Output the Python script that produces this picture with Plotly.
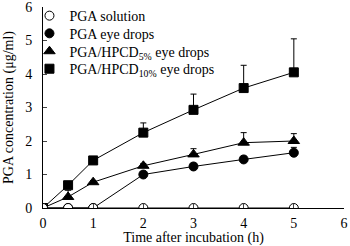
import plotly.graph_objects as go

time = [0, 0.5, 1, 2, 3, 4, 5]
sol = [0, 0, 0, 0, 0, 0, 0]
drops = [0, 0, 0, 1.0, 1.24, 1.45, 1.65]
drops_err = [0, 0, 0, 0.07, 0.1, 0.1, 0.16]
hp5 = [0, 0.33, 0.77, 1.26, 1.6, 1.95, 2.0]
hp5_err = [0, 0.2, 0.05, 0.07, 0.17, 0.3, 0.22]
hp10 = [0, 0.68, 1.42, 2.25, 2.93, 3.58, 4.05]
hp10_err = [0, 0.05, 0.05, 0.29, 0.47, 0.68, 1.0]
xticks = [0, 1, 2, 3, 4, 5, 6]
yticks = [0, 1, 2, 3, 4, 5, 6]

names = ["PGA solution", "PGA eye drops", "PGA/HPCD<sub>5%</sub> eye drops", "PGA/HPCD<sub>10%</sub> eye drops"]
FONT = "Liberation Serif"

fig = go.Figure()
for ys in [hp10, hp5, drops, sol]:
    fig.add_trace(go.Scatter(x=time, y=ys, mode="lines", line=dict(color="black", width=1),
                             showlegend=False, hoverinfo="skip"))

series = [
    (hp10, hp10_err, "square", 9, names[3], "legend4"),
    (hp5, hp5_err, "triangle-up", 10, names[2], "legend3"),
    (drops, drops_err, "circle", 9, names[1], "legend2"),
]
for ys, err, sym, sz, nm, lg in series:
    fig.add_trace(go.Scatter(
        x=time, y=ys, mode="markers", name=nm, legend=lg,
        marker=dict(symbol=sym, size=sz, color="black", line=dict(color="black", width=1)),
        error_y=dict(type="data", array=err, arrayminus=[0] * len(err), symmetric=False,
                     color="black", thickness=1, width=3),
    ))
fig.add_trace(go.Scatter(x=time, y=sol, mode="markers", name=names[0], legend="legend",
                         marker=dict(symbol="circle", size=9, color="white",
                                     line=dict(color="black", width=1))))

def leg(y):
    return dict(x=-0.045, y=y, xanchor="left", yanchor="middle", bgcolor="rgba(0,0,0,0)",
                font=dict(family=FONT, size=14), itemwidth=30)

fig.update_layout(
    width=350, height=246,
    margin=dict(l=43, r=6, t=7, b=38, autoexpand=False),
    plot_bgcolor="white", paper_bgcolor="white",
    font=dict(family=FONT, size=14, color="black"),
    legend=leg(0.955), legend2=leg(0.867), legend3=leg(0.778), legend4=leg(0.691),
    showlegend=True,
)
fig.update_xaxes(range=[0, 6], tickmode="array", tickvals=xticks, ticktext=[str(v) for v in xticks],
                 ticks="inside", ticklen=4, automargin=False, ticklabelstandoff=2,
                 ticklabeloverflow="allow",
                 showline=True, linecolor="black", linewidth=1, showgrid=False, zeroline=False,
                 title=dict(text="Time after incubation (h)", standoff=1, font=dict(family=FONT, size=14)),
                 tickfont=dict(family=FONT, size=14))
fig.update_yaxes(range=[0, 6], tickmode="array", tickvals=yticks, ticktext=[str(v) for v in yticks],
                 ticks="inside", ticklen=4, automargin=False, ticklabelstandoff=7,
                 ticklabeloverflow="allow",
                 showline=True, linecolor="black", linewidth=1, showgrid=False, zeroline=False,
                 title=dict(text="PGA concentration (μg/ml)", standoff=8, font=dict(family=FONT, size=14)),
                 tickfont=dict(family=FONT, size=14))

fig.write_html("out.html", config={"displayModeBar": False},
               post_script="document.body.style.margin='0';document.body.style.overflow='hidden';")
